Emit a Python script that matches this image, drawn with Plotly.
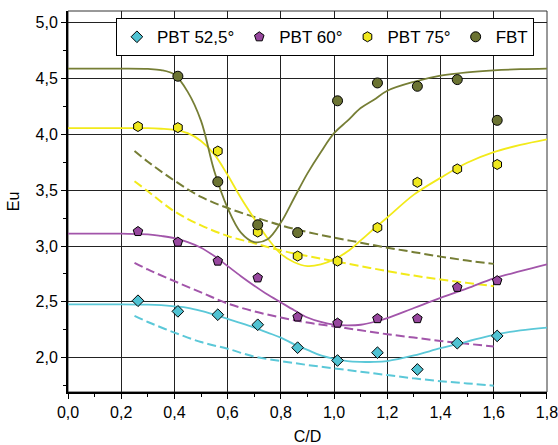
import plotly.graph_objects as go

# ---- data ----
x_pts = [0.263, 0.413, 0.563, 0.713, 0.863, 1.013, 1.163, 1.313, 1.463, 1.613]
pbt525 = [2.51, 2.415, 2.385, 2.295, 2.09, 1.975, 2.045, 1.895, 2.13, 2.195]
pbt60 = [3.13, 3.035, 2.865, 2.715, 2.365, 2.31, 2.35, 2.35, 2.63, 2.69]
pbt75 = [4.07, 4.06, 3.85, 3.125, 2.91, 2.865, 3.165, 3.57, 3.69, 3.73]
fbt = [None, 4.52, 3.575, 3.19, 3.12, 4.3, 4.46, 4.43, 4.49, 4.125]

fit_x = [0, 0.1, 0.2, 0.3, 0.35, 0.4, 0.45, 0.5, 0.55, 0.6, 0.65, 0.7, 0.75, 0.8,
         0.85, 0.9, 0.95, 1.0, 1.05, 1.1, 1.15, 1.2, 1.3, 1.4, 1.5, 1.6, 1.7, 1.8]
fit_fbt = [4.588, 4.588, 4.588, 4.585, 4.575, 4.535, 4.38, 4.12, 3.67, 3.34, 3.12, 3.035,
           3.06, 3.21, 3.43, 3.65, 3.84, 4.01, 4.12, 4.235, 4.31, 4.39, 4.47, 4.525,
           4.555, 4.573, 4.583, 4.588]
fit_pbt75 = [4.056, 4.056, 4.056, 4.055, 4.05, 4.04, 4.01, 3.94, 3.82, 3.635, 3.43, 3.245,
             3.07, 2.93, 2.855, 2.82, 2.835, 2.88, 2.95, 3.05, 3.155, 3.255, 3.46, 3.61,
             3.745, 3.84, 3.905, 3.955]
fit_pbt60 = [3.111, 3.111, 3.11, 3.105, 3.09, 3.07, 3.035, 2.985, 2.91, 2.82, 2.73, 2.645,
             2.565, 2.495, 2.425, 2.36, 2.32, 2.295, 2.29, 2.295, 2.32, 2.355, 2.445,
             2.535, 2.62, 2.71, 2.775, 2.836]
fit_pbt525 = [2.478, 2.478, 2.478, 2.475, 2.47, 2.46, 2.447, 2.42, 2.385, 2.347, 2.31, 2.27,
              2.225, 2.18, 2.12, 2.07, 2.02, 1.99, 1.97, 1.963, 1.962, 1.97, 2.02, 2.085,
              2.145, 2.205, 2.245, 2.27]

dash_x = [0.25, 0.3, 0.4, 0.5, 0.6, 0.7, 0.8, 0.9, 1.0, 1.1, 1.2, 1.3, 1.4, 1.5, 1.6]
dash_fbt = [3.85, 3.755, 3.585, 3.44, 3.34, 3.26, 3.185, 3.125, 3.075, 3.03, 2.985, 2.945,
            2.905, 2.87, 2.84]
dash_pbt75 = [3.58, 3.49, 3.31, 3.185, 3.09, 3.025, 2.96, 2.91, 2.865, 2.82, 2.775, 2.735,
              2.70, 2.67, 2.64]
dash_pbt60 = [2.85, 2.79, 2.685, 2.585, 2.485, 2.415, 2.36, 2.315, 2.28, 2.245, 2.21, 2.18,
              2.15, 2.125, 2.10]
dash_pbt525 = [2.375, 2.32, 2.225, 2.14, 2.08, 2.01, 1.97, 1.935, 1.905, 1.875, 1.845,
               1.815, 1.79, 1.77, 1.75]

names = ["PBT 52,5°", "PBT 60°", "PBT 75°", "FBT"]
symbols = ["diamond", "pentagon", "hexagon", "circle"]
sizes = [9, 10, 10, 10]
line_colors = ["#5BC8D8", "#A255AA", "#F2EA1A", "#767E35"]
marker_colors = ["#4FC2D2", "#97479E", "#EFE81E", "#6B7332"]

pts = [pbt525, pbt60, pbt75, fbt]
fits = [fit_pbt525, fit_pbt60, fit_pbt75, fit_fbt]
dashes = [dash_pbt525, dash_pbt60, dash_pbt75, dash_fbt]

FONT = "Arial"

fig = go.Figure()

for i in range(4):
    fig.add_trace(go.Scatter(
        x=dash_x, y=dashes[i], mode="lines", showlegend=False, hoverinfo="skip",
        line=dict(color=line_colors[i], width=2, dash="9px,4px", shape="spline")))
for i in range(4):
    fig.add_trace(go.Scatter(
        x=fit_x, y=fits[i], mode="lines", showlegend=False, hoverinfo="skip",
        line=dict(color=line_colors[i], width=1.8, shape="spline")))
for i in range(4):
    fig.add_trace(go.Scatter(
        x=x_pts, y=pts[i], mode="markers", name=names[i],
        marker=dict(symbol=symbols[i], size=sizes[i], color=marker_colors[i],
                    line=dict(color="black", width=1))))

fig.add_shape(type="rect", xref="paper", yref="paper", x0=0, x1=1, y0=0, y1=1,
              line=dict(color="#333333", width=1), layer="below")

fig.update_layout(
    width=558, height=445,
    margin=dict(l=68, r=11, t=11, b=53),
    paper_bgcolor="white", plot_bgcolor="white",
    separators=", ",
    font=dict(family=FONT, size=16, color="black"),
    showlegend=True,
    legend=dict(orientation="h", x=0.1, y=0.981, xanchor="left", yanchor="top",
                bgcolor="white", bordercolor="black", borderwidth=1,
                font=dict(family=FONT, size=17, color="black"),
                itemwidth=30),
    xaxis=dict(range=[0, 1.8002], dtick=0.2, tick0=0, tickformat=".1f",
               automargin=False, ticklabeloverflow="allow",
               showgrid=True, gridcolor="#222222", gridwidth=1,
               showline=True, linecolor="black", linewidth=2,
               ticks="outside", ticklen=5, tickwidth=1, tickcolor="black",
               minor=dict(dtick=0.1, ticks="outside", ticklen=3, tickcolor="black",
                          showgrid=False),
               zeroline=False,
               title=dict(text="C/D", standoff=12, font=dict(size=16))),
    yaxis=dict(range=[1.693, 5.104], dtick=0.5, tick0=0, tickformat=".1f",
               automargin=False,
               showgrid=True, gridcolor="#222222", gridwidth=1,
               showline=True, linecolor="black", linewidth=2,
               ticks="outside", ticklen=5, tickwidth=1, tickcolor="black",
               minor=dict(dtick=0.25, ticks="outside", ticklen=3, tickcolor="black",
                          showgrid=False),
               zeroline=False,
               title=dict(text="Eu", standoff=12, font=dict(size=16))),
)

fig.write_html("out.html")
